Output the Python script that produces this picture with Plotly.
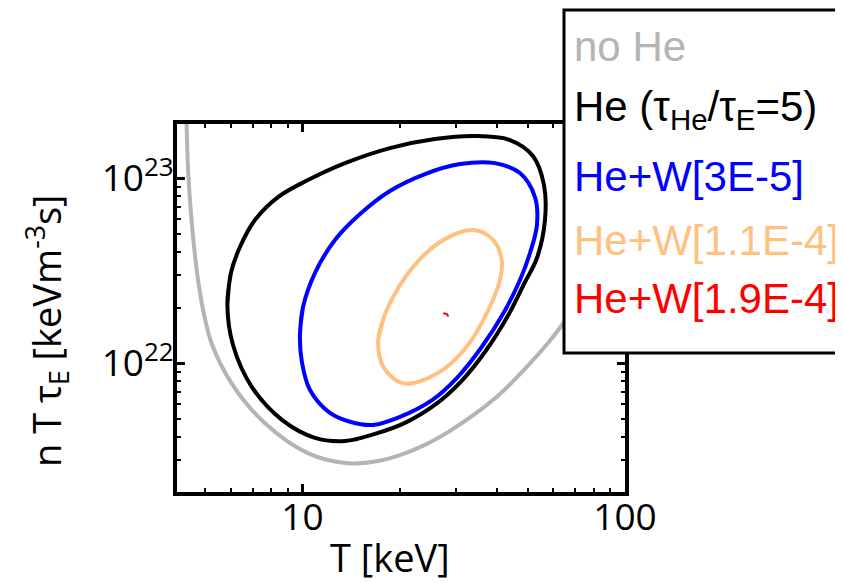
import plotly.graph_objects as go

# ---- data (T in keV, n T tau_E in keV m^-3 s) ----
noHe_T = [4.37, 4.42, 4.53, 4.70, 4.92, 5.23, 6.03, 7.65, 10.42, 13.87, 16.78, 20.06, 23.98, 28.67,
          34.27, 40.96, 48.96, 57.70, 65.16, 80.72, 100]
noHe_Y = [2.07e23, 1.11e23, 5.95e22, 3.19e22, 1.94e22, 1.28e22, 7.79e21, 4.74e21, 3.26e21, 2.88e21,
          2.945e21, 3.19e21, 3.62e21, 4.31e21, 5.32e21, 6.82e21, 9.32e21, 1.287e22, 1.693e22,
          2.892e22, 5.125e22]

He_T = [5.85, 6.00, 6.40, 7.12, 8.40, 10.40, 13.55, 18.67, 25.75, 34.27, 44.0, 51.83, 56.08, 56.48,
        53.33, 48.79, 43.22, 37.07, 31.12, 25.84, 20.79, 16.78, 13.55, 10.93, 8.64, 6.97, 6.09,
        5.85, 6.00]
He_Y = [2.066e22, 3.077e22, 4.253e22, 5.953e22, 7.924e22, 9.791e22, 1.209e23, 1.458e23, 1.631e23,
        1.693e23, 1.611e23, 1.320e23, 9.201e22, 5.953e22, 3.709e22, 2.717e22, 1.791e22, 1.173e22,
        8.02e21, 5.99e21, 4.76e21, 4.15e21, 3.80e21, 3.95e21, 4.94e21, 7.44e21, 1.256e22,
        2.066e22, 3.077e22]

W1_T = [9.82, 10.04, 10.93, 12.61, 15.08, 18.67, 23.98, 30.79, 39.53, 47.25, 52.58, 53.33, 50.75,
        47.25, 42.01, 35.95, 30.29, 25.28, 20.06, 16.54, 14.04, 12.17, 10.55, 9.96, 9.82, 10.04]
W1_Y = [1.422e22, 2.016e22, 3.077e22, 4.640e22, 6.412e22, 8.541e22, 1.055e23, 1.195e23, 1.209e23,
        1.068e23, 7.924e22, 5.593e22, 3.947e22, 2.820e22, 1.870e22, 1.225e22, 8.43e21, 6.34e21,
        5.13e21, 4.64e21, 4.83e21, 5.39e21, 7.17e21, 1.016e22, 1.422e22, 2.016e22]

W2_T = [17.18, 18.25, 22.06, 27.33, 33.85, 39.05, 41.47, 40.96, 37.26, 32.29, 26.69, 20.54, 17.81,
        17.18, 18.25]
W2_Y = [1.34e22, 1.94e22, 3.33e22, 4.64e22, 5.25e22, 4.64e22, 3.62e22, 2.82e22, 1.863e22, 1.229e22,
        9.01e21, 7.79e21, 9.58e21, 1.34e22, 1.94e22]

W3_T = [27.3, 28.0, 28.3]
W3_Y = [1.86e22, 1.85e22, 1.79e22]

legend_labels = ["no He",
                 "He (τ<sub>He</sub>/τ<sub>E</sub>=5)",
                 "He+W[3E-5]",
                 "He+W[1.1E-4]",
                 "He+W[1.9E-4]"]
colors = ["#b4b4b4", "#000000", "#0000ff", "#ffc080", "#ff0000"]

x_title = "T [keV]"
y_title = "n T τ<sub>E</sub> [keVm<sup>-3</sup>s]"
x_tickvals = [10, 100]
x_ticktext = ["10", "100"]
x_minor = [5, 6, 7, 8, 9, 20, 30, 40, 50, 60, 70, 80, 90]
y_tickvals = [1e22, 1e23]
y_ticktext = ["10<sup>22</sup>", "10<sup>23</sup>"]
y_minor = [3e21, 4e21, 5e21, 6e21, 7e21, 8e21, 9e21,
           2e22, 3e22, 4e22, 5e22, 6e22, 7e22, 8e22, 9e22, 2e23]

series = [(noHe_T, noHe_Y), (He_T, He_Y), (W1_T, W1_Y), (W2_T, W2_Y), (W3_T, W3_Y)]
widths = [4, 4, 4, 4, 2]

fig = go.Figure()
for (tx, ty), c, w, name in zip(series, colors, widths, legend_labels):
    fig.add_trace(go.Scatter(x=tx, y=ty, mode="lines", line=dict(color=c, width=w, shape="spline", smoothing=1.0),
                             name=name, showlegend=False, hoverinfo="skip"))

# the page body adds an 8px offset; plot area in page pixels is x 177..625, y 124..492
OFF = 8
W, H = 843, 583
L, T = 177 - OFF, 124 - OFF
R, B = W - (625 - OFF), H - (492 - OFF)
pw, ph = 448, 368

def px(x):
    return (x - 177) / pw

def py(y):
    return (492 - y) / ph

axis_font = dict(family="Open Sans", size=37, color="black")
title_font = dict(family="Open Sans", size=38, color="black")

fig.update_layout(
    width=W, height=H,
    margin=dict(l=L, r=R, t=T, b=B),
    plot_bgcolor="white", paper_bgcolor="white",
    showlegend=False,
    xaxis=dict(type="log", range=[0.611, 2.0], showline=True, linewidth=4, linecolor="black",
               mirror="allticks", ticks="inside", ticklen=8, tickwidth=3, tickcolor="black",
               tickvals=x_tickvals, ticktext=x_ticktext, tickfont=axis_font, automargin=False,
               ticklabelstandoff=-10,
               minor=dict(ticks="inside", ticklen=4, tickwidth=2, tickcolor="black", tickvals=x_minor),
               showgrid=False, zeroline=False),
    yaxis=dict(type="log", range=[21.304, 23.294], showline=True, linewidth=4, linecolor="black",
               mirror="allticks", ticks="inside", ticklen=8, tickwidth=3, tickcolor="black",
               tickvals=y_tickvals, ticktext=y_ticktext, tickfont=axis_font, automargin=False,
               ticklabelstandoff=-8,
               minor=dict(ticks="inside", ticklen=4, tickwidth=2, tickcolor="black", tickvals=y_minor),
               showgrid=False, zeroline=False),
)

# axis titles
fig.add_annotation(text=x_title, xref="paper", yref="paper", x=px(390), y=py(557),
                   xanchor="center", yanchor="middle", showarrow=False, font=title_font)
fig.add_annotation(text=y_title, xref="paper", yref="paper", x=px(47), y=py(331),
                   xanchor="center", yanchor="middle", showarrow=False, font=title_font, textangle=-90)

# legend box
fig.add_shape(type="rect", xref="paper", yref="paper",
              x0=px(564), x1=px(860), y0=py(353), y1=py(10),
              line=dict(color="black", width=3), fillcolor="white", layer="above")

rows = [47, 110, 176, 240, 298]
for lab, c, r in zip(legend_labels, colors, rows):
    fig.add_annotation(text=lab, xref="paper", yref="paper", x=px(572), y=py(r),
                       xanchor="left", yanchor="middle", showarrow=False,
                       font=dict(family="Liberation Sans", size=42, color=c))

fig.write_html("out.html")
